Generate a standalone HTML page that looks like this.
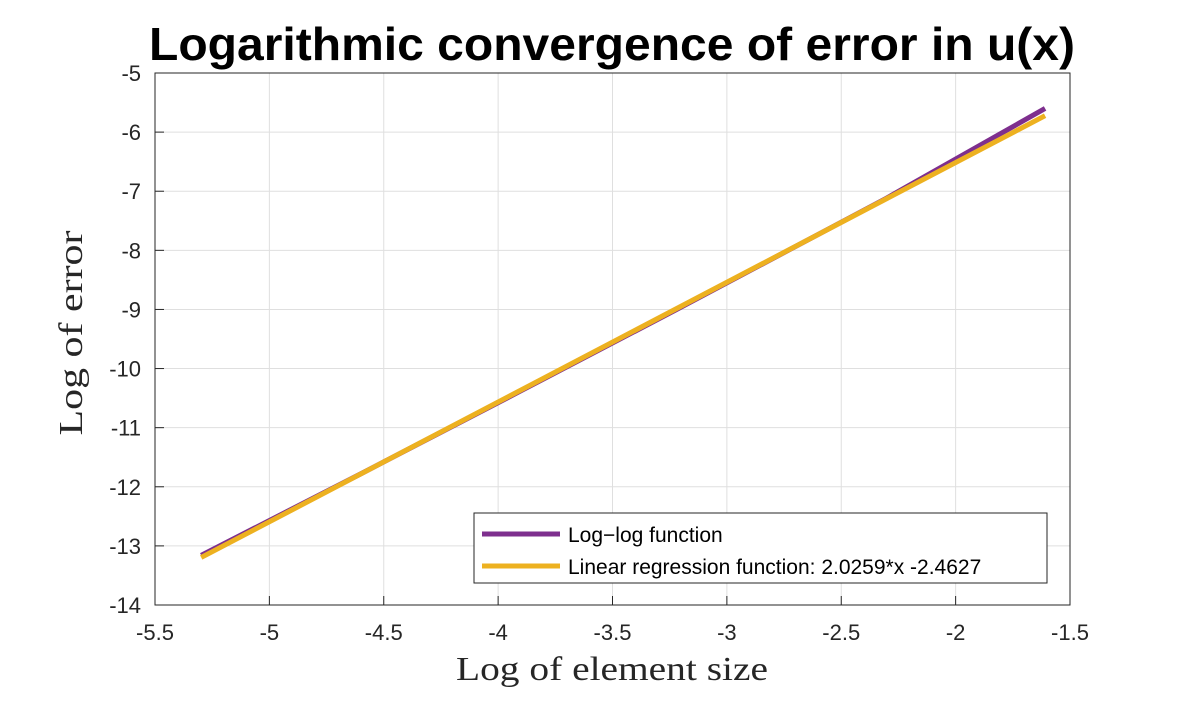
<!DOCTYPE html>
<html><head><meta charset="utf-8"><style>
body{margin:0;background:#fff;}
svg text{font-family:"Liberation Sans",sans-serif;}
</style></head><body>
<svg width="1182" height="696" xmlns="http://www.w3.org/2000/svg">
<rect width="1182" height="696" fill="#fff"/>
<g id="grid"></g>
<g id="marks"></g>
<rect x="155" y="73" width="915" height="532" fill="none" stroke="#262626" stroke-width="1"/>
<g id="ticks"></g>
<text x="612" y="60" text-anchor="middle" font-size="46" font-weight="bold" fill="#000" textLength="926" lengthAdjust="spacingAndGlyphs">Logarithmic convergence of error in u(x)</text>
<text x="612" y="680" text-anchor="middle" font-size="34" style="font-family:'Liberation Serif',serif" fill="#262626" textLength="312" lengthAdjust="spacingAndGlyphs">Log of element size</text>
<text transform="translate(82,333) rotate(-90)" text-anchor="middle" font-size="34" style="font-family:'Liberation Serif',serif" fill="#262626" textLength="205" lengthAdjust="spacingAndGlyphs">Log of error</text>
<g>
<rect x="474" y="513" width="573" height="70" fill="#fff" stroke="#262626" stroke-width="1"/>
<line x1="482" y1="534" x2="560" y2="534" stroke="#7E2F8E" stroke-width="5"/>
<text x="568" y="542" font-size="21" fill="#000">Log−log function</text>
<line x1="482" y1="566" x2="560" y2="566" stroke="#EDB120" stroke-width="5"/>
<text x="568" y="574" font-size="21" fill="#000">Linear regression function: 2.0259*x -2.4627</text>
</g>
</svg>
<script>
const xs = [-5.298,-4.605,-3.912,-3.219,-2.303,-1.609];
const logErr = [-13.16,-11.79,-10.40,-9.00,-7.12,-5.60];
const slope = 2.0259, intercept = -2.4627;
const xTicks = [-5.5,-5,-4.5,-4,-3.5,-3,-2.5,-2,-1.5];
const yTicks = [-5,-6,-7,-8,-9,-10,-11,-12,-13,-14];
const NS="http://www.w3.org/2000/svg";
const X=v=>155+(v+5.5)*915/4, Y=v=>73+(-5-v)*532/9;
const grid=document.getElementById('grid'), ticks=document.getElementById('ticks'), marks=document.getElementById('marks');
function mk(t,a,p){const e=document.createElementNS(NS,t);for(const k in a)e.setAttribute(k,a[k]);p.appendChild(e);return e;}
xTicks.forEach(v=>{
 const g=mk('line',{x1:X(v),x2:X(v),y1:73,y2:605,stroke:'#dfdfdf','stroke-width':1},grid);
 
 
 mk('line',{x1:X(v),x2:X(v),y1:605,y2:596,stroke:'#262626'},ticks);
 const t=mk('text',{x:X(v),y:640,'text-anchor':'middle','font-size':22,fill:'#262626'},ticks);
 t.textContent=v;
 
 
});
yTicks.forEach(v=>{
 const g=mk('line',{x1:155,x2:1070,y1:Y(v),y2:Y(v),stroke:'#dfdfdf','stroke-width':1},grid);
 
 
 mk('line',{x1:155,x2:164,y1:Y(v),y2:Y(v),stroke:'#262626'},ticks);
 const t=mk('text',{x:141,y:Y(v)+8,'text-anchor':'end','font-size':22,fill:'#262626'},ticks);
 t.textContent=v;
 
 
});
const p1=mk('polyline',{points:xs.map((x,i)=>X(x)+','+Y(logErr[i])).join(' '),fill:'none',stroke:'#7E2F8E','stroke-width':5},marks);


const x0=xs[0], x1=xs[xs.length-1];
const p2=mk('line',{x1:X(x0),y1:Y(slope*x0+intercept),x2:X(x1),y2:Y(slope*x1+intercept),stroke:'#EDB120','stroke-width':5},marks);


</script>
</body></html>
